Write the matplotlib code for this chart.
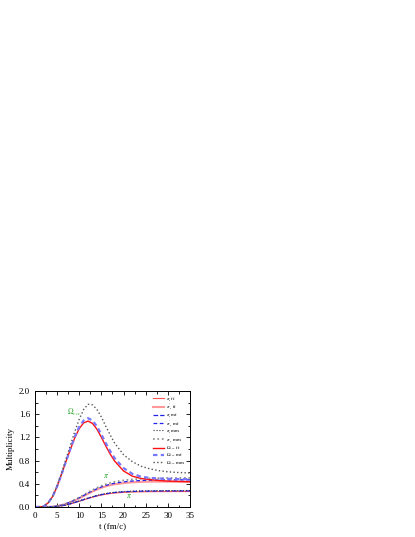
import matplotlib
matplotlib.use("Agg")
import matplotlib.pyplot as plt
from matplotlib.ticker import MultipleLocator

plt.rcParams["font.family"] = ["Liberation Serif", "DejaVu Serif"]
plt.rcParams["mathtext.fontset"] = "stix"

# time grid (fm/c)
t = [0, 1.5, 2, 3, 4, 5, 6, 7, 8, 9, 10, 11, 12, 13, 14, 15, 16, 17, 18,
     20, 22, 24, 26, 28, 30, 32, 35]

# Omega_ccc multiplicities
omega_ff = [0, 0, 0.01, 0.07, 0.18, 0.35, 0.56, 0.78, 0.99, 1.19, 1.35, 1.45,
            1.48, 1.44, 1.34, 1.20, 1.05, 0.91, 0.79, 0.62, 0.53, 0.49, 0.47,
            0.455, 0.445, 0.44, 0.435]
omega_mf = [0, 0, 0.01, 0.07, 0.18, 0.35, 0.56, 0.78, 1.00, 1.21, 1.38, 1.49,
            1.53, 1.49, 1.39, 1.25, 1.10, 0.96, 0.84, 0.67, 0.57, 0.52, 0.50,
            0.49, 0.485, 0.48, 0.48]
omega_mm = [0, 0, 0.01, 0.07, 0.18, 0.36, 0.58, 0.82, 1.06, 1.30, 1.51, 1.68,
            1.77, 1.76, 1.68, 1.55, 1.39, 1.24, 1.10, 0.90, 0.78, 0.70, 0.655,
            0.625, 0.605, 0.595, 0.585]

# pi' (upper plateau) multiplicities
pip_ff = [0, 0, 0, 0, 0.004, 0.014, 0.03, 0.052, 0.08, 0.112, 0.148, 0.188,
          0.228, 0.266, 0.3, 0.33, 0.355, 0.375, 0.39, 0.41, 0.425, 0.432,
          0.436, 0.437, 0.436, 0.435, 0.432]
pip_mf = [0, 0, 0, 0, 0.004, 0.015, 0.032, 0.055, 0.084, 0.118, 0.156, 0.197,
          0.238, 0.278, 0.313, 0.344, 0.37, 0.392, 0.408, 0.432, 0.447, 0.456,
          0.461, 0.464, 0.466, 0.467, 0.467]
pip_mm = [0, 0, 0, 0, 0.004, 0.015, 0.033, 0.058, 0.089, 0.125, 0.165, 0.208,
          0.252, 0.294, 0.331, 0.364, 0.392, 0.415, 0.433, 0.458, 0.475, 0.485,
          0.491, 0.495, 0.498, 0.5, 0.5]

# pi (lower plateau) multiplicities
pi_ff = [0, 0, 0, 0, 0.002, 0.008, 0.018, 0.033, 0.052, 0.074, 0.097, 0.121,
         0.145, 0.167, 0.188, 0.205, 0.219, 0.231, 0.24, 0.251, 0.257, 0.261,
         0.263, 0.264, 0.265, 0.265, 0.265]
pi_mf = [0, 0, 0, 0, 0.002, 0.008, 0.019, 0.034, 0.054, 0.077, 0.101, 0.126,
         0.15, 0.173, 0.194, 0.212, 0.227, 0.239, 0.248, 0.26, 0.267, 0.271,
         0.273, 0.275, 0.276, 0.276, 0.277]
pi_mm = [0, 0, 0, 0, 0.002, 0.009, 0.02, 0.036, 0.057, 0.08, 0.105, 0.13,
         0.155, 0.178, 0.199, 0.217, 0.232, 0.244, 0.254, 0.266, 0.273, 0.277,
         0.279, 0.281, 0.282, 0.282, 0.283]

fig = plt.figure(figsize=(4.15, 5.37), dpi=100)
ax = fig.add_axes([0.084, 0.056, 0.374, 0.216])

ax.plot(t, pi_ff, color="#ff5555", lw=0.8, label=r"$\pi$, ff")
ax.plot(t, pip_ff, color="#ff9999", lw=1.5, label=r"$\pi'$, ff")
ax.plot(t, pi_mf, color="#2222ee", lw=0.9, ls="--", label=r"$\pi$, mf")
ax.plot(t, pip_mf, color="#2222ee", lw=0.9, ls=(0, (3, 2)), label=r"$\pi'$, mf")
ax.plot(t, pi_mm, color="#333333", lw=0.8, ls=":", label=r"$\pi$, mm")
ax.plot(t, pip_mm, color="#888888", lw=1.2, ls=":", label=r"$\pi'$, mm")
ax.plot(t, omega_ff, color="#ff1111", lw=1.0, label=r"$\Omega_{ccc}$ ff")
ax.plot(t, omega_mf, color="#7777ff", lw=1.6, ls=(0, (2, 1.5)),
        label=r"$\Omega_{ccc}$ mf")
ax.plot(t, omega_mm, color="#555555", lw=1.0, ls=":", label=r"$\Omega_{ccc}$ mm")

ax.text(7.3, 1.58, r"$\Omega_{ccc}$", color="#33aa33", fontsize=5.5)
ax.text(15.3, 0.48, r"$\pi'$", color="#33aa33", fontsize=5.5)
ax.text(20.6, 0.14, r"$\pi'$", color="#33aa33", fontsize=5.5)

ax.set_xlim(0, 35)
ax.set_ylim(0, 2.0)
ax.xaxis.set_major_locator(MultipleLocator(5))
ax.xaxis.set_minor_locator(MultipleLocator(2.5))
ax.yaxis.set_major_locator(MultipleLocator(0.4))
ax.yaxis.set_minor_locator(MultipleLocator(0.2))
ax.yaxis.set_major_formatter(plt.FormatStrFormatter("%.1f"))
ax.tick_params(which="both", direction="in", top=True, right=True,
               labelsize=6.5, width=0.6)
ax.tick_params(which="major", length=3)
ax.tick_params(which="minor", length=1.8)
for s in ax.spines.values():
    s.set_linewidth(0.7)

ax.set_xlabel("t (fm/c)", fontsize=6.5, labelpad=2)
ax.set_ylabel("Multiplicity", fontsize=6.5, labelpad=3)

ax.legend(loc="upper right", fontsize=3.5, frameon=False, handlelength=2.2,
          labelspacing=-0.05, borderaxespad=0.6, handletextpad=0.5)

fig.savefig("out.png", dpi=100)
